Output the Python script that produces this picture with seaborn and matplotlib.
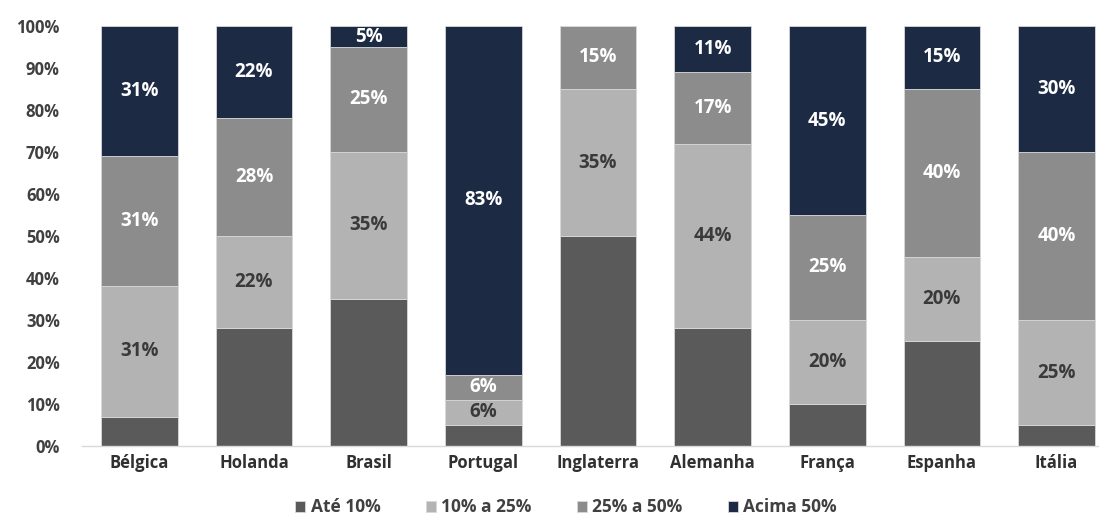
import numpy as np
import pandas as pd
import matplotlib
matplotlib.use("Agg")
import matplotlib.pyplot as plt
import seaborn as sns

paises = ["Bélgica", "Holanda", "Brasil", "Portugal", "Inglaterra",
          "Alemanha", "França", "Espanha", "Itália"]
ate_10 = [7, 28, 35, 5, 50, 28, 10, 25, 5]
de_10_a_25 = [31, 22, 35, 6, 35, 44, 20, 20, 25]
de_25_a_50 = [31, 28, 25, 6, 15, 17, 25, 40, 40]
acima_50 = [31, 22, 5, 83, 0, 11, 45, 15, 30]

series_nomes = ["Até 10%", "10% a 25%", "25% a 50%", "Acima 50%"]
series_valores = [ate_10, de_10_a_25, de_25_a_50, acima_50]
cores = ["#5a5a5a", "#b3b3b3", "#8c8c8c", "#1c2a44"]
cores_texto = [None, "#3a3a3a", "white", "white"]
y_ticks = [0, 10, 20, 30, 40, 50, 60, 70, 80, 90, 100]

sns.set_theme(style="white")
plt.rcParams["font.family"] = ["Open Sans", "DejaVu Sans"]

fig = plt.figure(figsize=(10.99, 5.24), dpi=100)
ax = fig.add_axes([82 / 1099, 78 / 524, 1017 / 1099, 420 / 524])

base = np.zeros(len(paises))
for nome, vals, cor, ctxt in zip(series_nomes, series_valores, cores, cores_texto):
    df = pd.DataFrame({"pais": paises, "valor": vals})
    sns.barplot(data=df, x="pais", y="valor", color=cor, bottom=base,
                width=0.67, ax=ax, label=nome, saturation=1,
                edgecolor="#d8d8d8", linewidth=0.6)
    if ctxt is not None:
        for i, v in enumerate(vals):
            if v > 0:
                ax.text(i, base[i] + v / 2, f"{v}%", ha="center", va="center",
                        color=ctxt, fontsize=13.5, fontweight="bold")
    base = base + np.array(vals)

ax.set_ylim(0, 100)
ax.set_xlim(-0.5, 8.37)
ax.set_yticks(y_ticks)
ax.set_yticklabels([f"{t}%" for t in y_ticks], fontsize=12, fontweight="bold",
                   color="#404040")
ax.set_xticks(range(len(paises)))
ax.set_xticklabels(paises, fontsize=12, fontweight="bold", color="#303030")
ax.set_xlabel("")
ax.set_ylabel("")
ax.tick_params(axis="both", length=0, pad=6)
ax.tick_params(axis="y", pad=16)
for s in ["top", "right", "left"]:
    ax.spines[s].set_visible(False)
ax.spines["bottom"].set_color("#d9d9d9")
ax.spines["bottom"].set_linewidth(1)

handles, labels = ax.get_legend_handles_labels()
if ax.get_legend() is not None:
    ax.get_legend().remove()
leg = fig.legend(handles, labels, loc="lower center", bbox_to_anchor=(0.515, -0.015),
                 ncol=4, frameon=False, handlelength=0.6, handleheight=0.6,
                 handletextpad=0.3, columnspacing=2.6,
                 prop={"size": 12.5, "weight": "bold"})
for t in leg.get_texts():
    t.set_color("#404040")

fig.savefig("out.png", dpi=100, facecolor="white")
